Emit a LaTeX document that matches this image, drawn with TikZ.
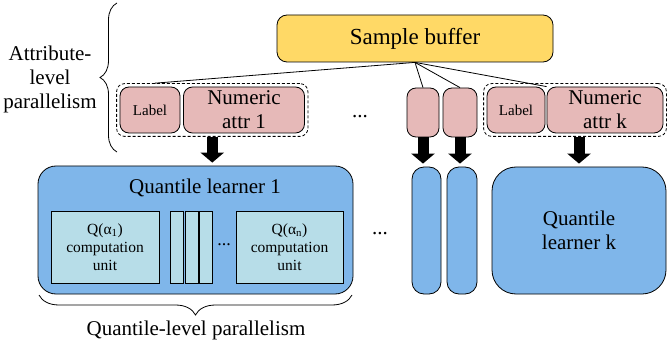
\documentclass[tikz,border=0pt]{standalone}
\usepackage{fontspec}
\setmainfont{Liberation Serif}
\usetikzlibrary{arrows.meta,positioning,calc,fit,decorations.pathreplacing}
\definecolor{bufyellow}{HTML}{FFD966}
\definecolor{attrpink}{HTML}{E6B9B8}
\definecolor{learnblue}{HTML}{7FB6EA}
\definecolor{unitblue}{HTML}{B7DDE8}
\tikzset{box/.style={draw,line width=0.8pt,align=center,inner sep=0pt,font=\fontsize{21}{24}\selectfont},
  attr/.style={box,fill=attrpink,rounded corners=9pt},
  lbl/.style={attr,font=\fontsize{15}{18}\selectfont},
  learner/.style={box,fill=learnblue},
  unit/.style={box,fill=unitblue,font=\fontsize{15.5}{18}\selectfont},
  grp/.style={draw,dash pattern=on 3pt off 2pt,line width=0.8pt,rounded corners=8pt,inner sep=3pt},
  blk/.style={line width=11pt,-{Triangle[length=10pt,width=23pt]},shorten >=3pt},
  brc/.style={decorate,decoration={brace,amplitude=#1},line width=0.8pt},
  txt/.style={align=center,inner sep=0pt,font=\fontsize{21}{24}\selectfont}}

\begin{document}
\begin{tikzpicture}[x=1pt,y=-1pt]
\useasboundingbox (0,0) rectangle (668,347);
\node[box,fill=bufyellow,rounded corners=10pt,minimum width=276pt,minimum height=47pt,font=\fontsize{23}{26}\selectfont] (buf) at (415,38.5) {Sample buffer};
% attribute columns
\node[lbl,minimum width=60pt,minimum height=46pt] (lab1) at (150,110) {Label};
\node[attr,minimum width=121pt,minimum height=46pt] (num1) at (244,110) {Numeric\\attr 1};
\node[grp,fit=(lab1)(num1)] (grp1) {};
\node[attr,minimum width=32pt,minimum height=49pt] (sa) at (423,112.5) {};
\node[attr,minimum width=34pt,minimum height=49pt] (sb) at (460,112.5) {};
\node[lbl,minimum width=58pt,minimum height=46pt] (labk) at (516,110) {Label};
\node[attr,minimum width=116pt,minimum height=46pt] (numk) at (605,110) {Numeric\\attr k};
\node[grp,fit=(labk)(numk)] (grpk) {};
\node[txt,anchor=base] (dots1) at (360,118) {...};
\draw[line width=0.8pt] (buf.south) -- ($(grp1.north west)!0.2!(grp1.north east)$);
\draw[line width=0.8pt] (buf.south) -- (sa.north);
\draw[line width=0.8pt] (buf.south) -- (sb.north);
\draw[line width=0.8pt] (buf.south) -- (numk.north west);
% learners
\node[learner,rounded corners=18pt,minimum width=315pt,minimum height=128pt] (ql1) at (195.5,230) {};
\node[txt] (ql1t) at (205,188) {Quantile learner 1};
\node[unit,minimum width=108pt,minimum height=72pt] (u1) at (105,247) {Q(α\textsubscript{1})\\computation\\unit};
\foreach \x [count=\i] in {176.5,191.5,206}{
  \node[unit,minimum width=13pt,minimum height=72pt] (bar\i) at (\x,247) {};
}
\node[txt,anchor=base,font=\fontsize{18}{20}\selectfont] (dots2) at (224,245) {...};
\node[unit,minimum width=107pt,minimum height=72pt] (un) at (289.5,247) {Q(α\textsubscript{n})\\computation\\unit};
\node[txt,anchor=base] (dots3) at (380,234) {...};
\node[learner,rounded corners=12pt,minimum width=29pt,minimum height=127pt] (ta) at (426.5,230.5) {};
\node[learner,rounded corners=12pt,minimum width=30pt,minimum height=127pt] (tb) at (462,230.5) {};
\node[learner,rounded corners=24pt,minimum width=174pt,minimum height=127pt] (qlk) at (579,230.5) {Quantile\\learner k};
% block arrows
\draw[blk] (grp1.south) -- (grp1.south |- ql1.north);
\draw[blk] (sa.south) -- (sa.south |- ta.north);
\draw[blk] (sb.south) -- (sb.south |- tb.north);
\draw[blk] (qlk.north |- grpk.south) -- (qlk.north);
% braces
\draw[brc=17pt] (117,152) -- (117,3);
\node[txt] (attrpar) at (50,79) {Attribute-\\level\\parallelism};
\draw[brc=20pt] (352,295) -- (39,295);
\node[txt] (qpar) at (196,330) {Quantile-level parallelism};
\end{tikzpicture}
\end{document}
